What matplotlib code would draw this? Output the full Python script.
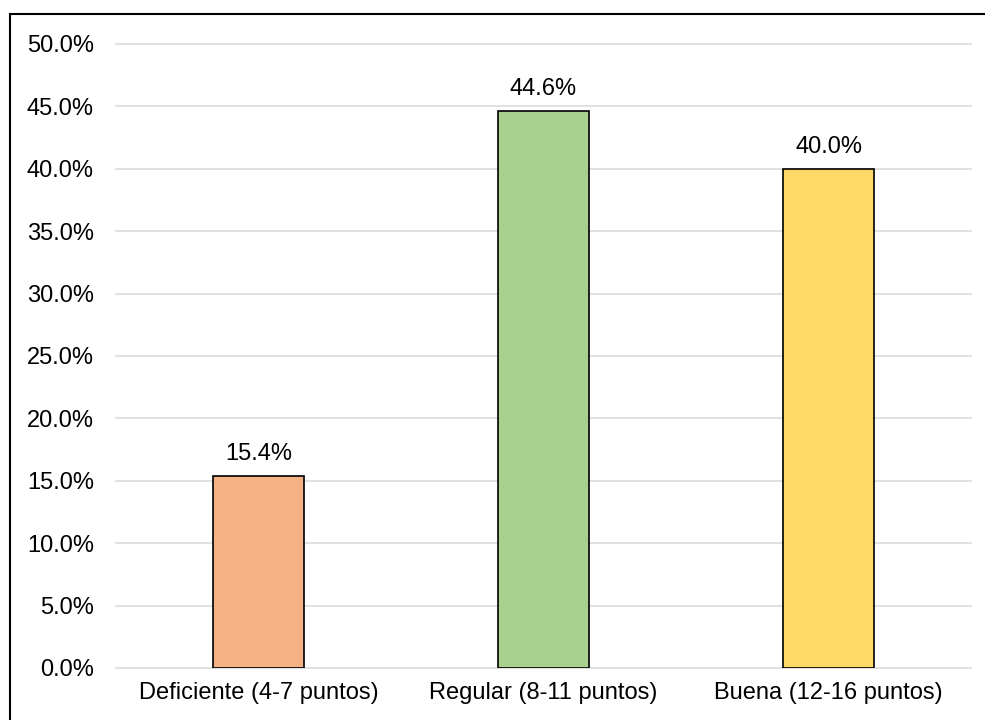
import numpy as np
import matplotlib.pyplot as plt
from matplotlib.patches import Rectangle
from matplotlib.ticker import FuncFormatter, MultipleLocator

categorias = ['Deficiente (4-7 puntos)', 'Regular (8-11 puntos)', 'Buena (12-16 puntos)']
porcentajes = [0.154, 0.446, 0.400]
colores = ['#F4B183', '#A9D18E', '#FFD966']

plt.rcParams['font.family'] = ['Liberation Sans', 'DejaVu Sans']

fig = plt.figure(figsize=(9.85, 7.2), dpi=100)
ax = fig.add_axes([116 / 985, 52 / 720, 855 / 985, 624 / 720])

x = np.arange(len(categorias))
bars = ax.bar(x, porcentajes, width=0.316, color=colores, edgecolor='black',
              linewidth=1.2, zorder=3)

# etiquetas sobre las barras
for b, v in zip(bars, porcentajes):
    ax.annotate(f'{v:.1%}', (b.get_x() + b.get_width() / 2, v),
                xytext=(0, 11.5), textcoords='offset points',
                ha='center', va='baseline', fontsize=17)

ax.set_xlim(-0.5, 2.5)
ax.set_ylim(0, 0.5)
ax.yaxis.set_major_locator(MultipleLocator(0.05))
ax.yaxis.set_major_formatter(FuncFormatter(lambda y, _: '{:.1%}'.format(y)))
ax.set_xticks(x)
ax.set_xticklabels(categorias)
ax.tick_params(axis='both', length=0, labelsize=17)
ax.tick_params(axis='y', pad=16)
ax.tick_params(axis='x', pad=10)
ax.grid(axis='y', color='#D9D9D9', linewidth=1.1, zorder=0)
for gl in ax.get_ygridlines():
    gl.set_clip_on(False)
for s in ax.spines.values():
    s.set_visible(False)

# marco exterior
fig.add_artist(Rectangle((10 / 985, -0.05), 1.0, 1 - 14 / 720 + 0.05,
                         transform=fig.transFigure, fill=False,
                         edgecolor='black', linewidth=1.5))

fig.savefig('out.png', dpi=100)
